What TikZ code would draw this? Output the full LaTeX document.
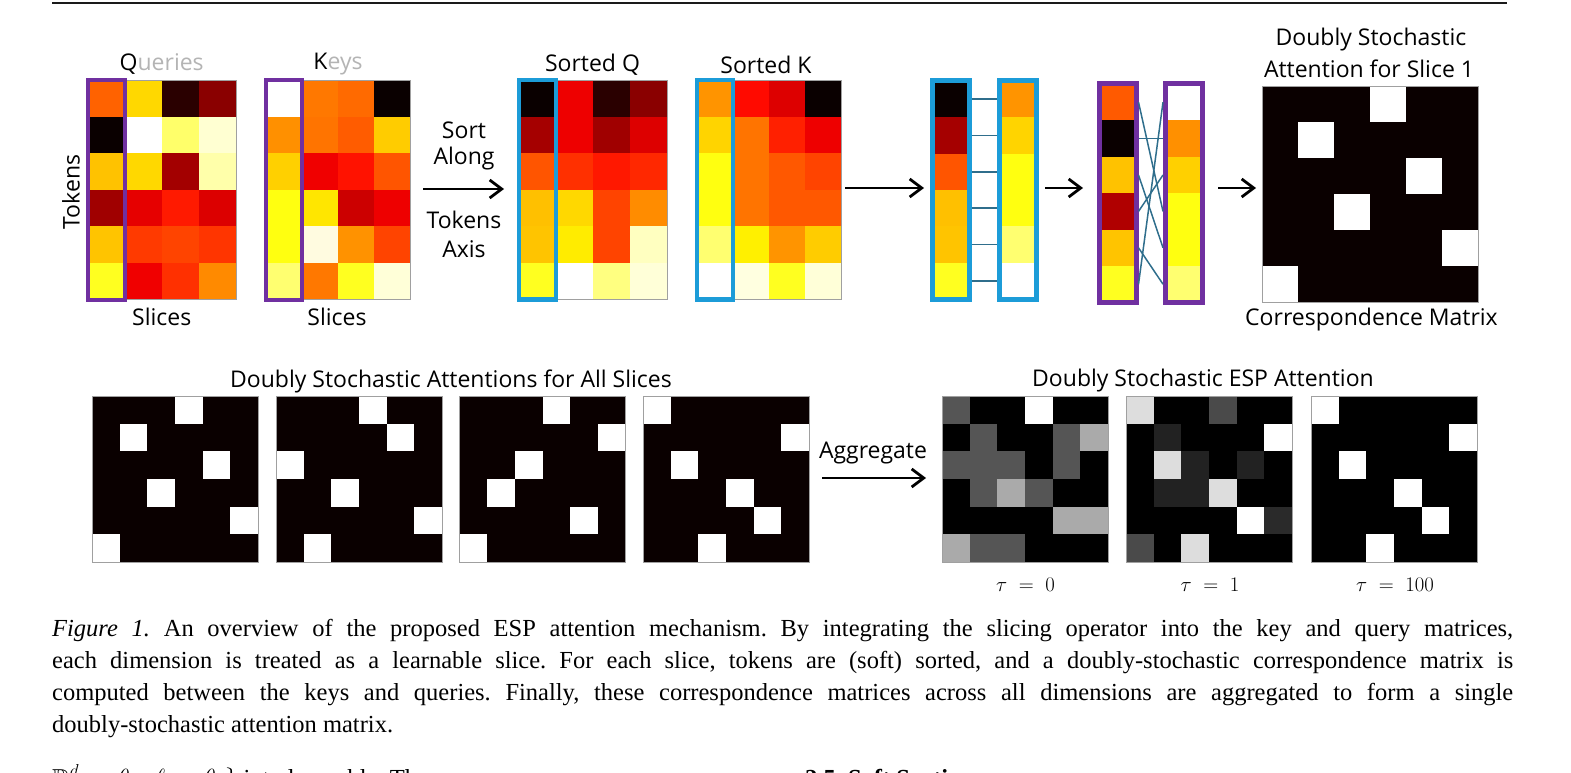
\documentclass[tikz,border=0pt]{standalone}
\usepackage{fontspec}
\usepackage{amssymb}
\setmainfont{Liberation Serif}
\newfontfamily\labfont{Open Sans}
\usetikzlibrary{arrows.meta}
\definecolor{qpurple}{HTML}{7030A0}
\definecolor{qblue}{HTML}{1C9CD8}
\definecolor{linkc}{HTML}{2F6E8C}
\definecolor{nblack}{HTML}{0A0000}
\definecolor{framec}{HTML}{A0A0A0}
\definecolor{faint}{HTML}{B4B4B4}
\definecolor{rulec}{HTML}{1A1A1A}
\newcommand\heatmap[6]{%
  \foreach \hv [count=\hi from 0] in {#6} {%
    \pgfmathtruncatemacro\hr{floor(\hi/#5)}%
    \pgfmathtruncatemacro\hc{mod(\hi,#5)}%
    \definecolor{hcol}{HTML}{\hv}%
    \fill[hcol] ({#1+\hc*#3},{#2+\hr*#4}) rectangle ++(#3,#4);
  }}
\newcommand\permmat[4]{%
  \fill[nblack] (#1,#2) rectangle ++({6*#3},{6*#3});
  \foreach \pr/\pc in {#4} {\fill[white] ({#1+(\pc-1)*#3},{#2+(\pr-1)*#3}) rectangle ++(#3,#3);}
  \draw[framec, line width=0.8] (#1,#2) rectangle ++({6*#3},{6*#3});}
\tikzset{
  lab/.style={font=\labfont\fontsize{23}{27}\selectfont, inner sep=0},
  arr/.style={-{Straight Barb[length=12pt,width=18pt]}, line width=2.8, black},
  link/.style={linkc, line width=1.5},
  pbox/.style={qpurple, line width=4},
  bbox/.style={qblue, line width=4.5},
  frame/.style={framec, line width=0.8},
  taulab/.style={inner sep=0, anchor=base, font=\fontsize{20}{24}\selectfont},
  captext/.style={font=\frenchspacing\fontsize{24.5}{28}\selectfont, inner sep=0, anchor=base west}
}
\begin{document}
\begin{tikzpicture}[x=1pt,y=-1pt]
\useasboundingbox (0,0) rectangle (1571,773);
\draw[rulec, line width=2.5] (52,2.8) -- (1507,2.8);

% ---------- Queries ----------
\heatmap{88}{80}{37}{36.6}{4}{FF6200,FFD800,2A0000,8A0000,0A0000,FFFFFF,FFFF6A,FFFFD2,FFC200,FFD800,A30000,FFFFAA,A00000,E60000,FF1A00,DC0000,FFC400,FF3A00,FF4400,FF3500,FFFF20,F00000,FF3000,FF8A00}
\draw[frame] (88,80) rectangle (236,299.6);
\draw[pbox] (88,80) rectangle (125,299.6);
\node[lab] (qt) at (161.7,64) {Q\textcolor{faint}{ueries}};
\node[lab] (qs) at (161.7,317) {Slices};
\node[lab, rotate=90] (tok) at (71,192) {Tokens};

% ---------- Keys ----------
\heatmap{266}{80}{36.1}{36.6}{4}{FFFFFF,FF7800,FF6A00,0A0000,FF9000,FF7400,FF5C00,FFCC00,FFD000,F00000,FF1200,FF5500,FFFF10,FFE600,CC0000,EE0000,FFFF10,FFFBE0,FF9200,FF4400,FFFF70,FF7800,FFFF20,FFFFD8}
\draw[frame] (266,80) rectangle (410.4,299.6);
\draw[pbox] (266,80) rectangle (302.1,299.6);
\node[lab] (kt) at (338,64) {K\textcolor{faint}{eys}};
\node[lab] (ks) at (337,317) {Slices};

% ---------- Sort arrow ----------
\node[lab] (s1) at (464,130) {Sort};
\node[lab] (s2) at (464,159) {Along};
\node[lab] (s3) at (464,220) {Tokens};
\node[lab] (s4) at (464,249) {Axis};
\coordinate (a1s) at (423,189);
\coordinate (a1e) at (504,189);
\draw[arr] (a1s) -- (a1e);

% ---------- Sorted Q ----------
\heatmap{519}{80}{37}{36.6}{4}{0A0000,EE0000,2A0000,8A0000,A50000,EE0000,A00000,DD0000,FF5500,FF3000,FF1800,FF2800,FFC000,FFD800,FF4400,FF8C00,FFC400,FFEC00,FF4400,FFFFC0,FFFF20,FFFFFF,FFFF80,FFFFD8}
\draw[frame] (519,80) rectangle (667,299.6);
\draw[bbox] (519,80) rectangle (556,299.6);
\node[lab] (sqt) at (592.5,65) {Sorted Q};

% ---------- Sorted K ----------
\heatmap{697}{80}{36}{36.6}{4}{FF9400,FF0A00,DD0000,0A0000,FFD400,FF7400,FF2000,EE0000,FFFF10,FF7400,FF5800,FF4400,FFFF10,FF7400,FF5800,FF5800,FFFF70,FFF000,FF9400,FFCC00,FFFFFF,FFFFE0,FFFF20,FFFFD8}
\draw[frame] (697,80) rectangle (841,299.6);
\draw[bbox] (697,80) rectangle (733,299.6);
\node[lab] (skt) at (766,65) {Sorted K};

\coordinate (a2s) at (845,188);
\coordinate (a2e) at (924,188);
\draw[arr] (a2s) -- (a2e);

% ---------- Sorted columns (blue) ----------
\heatmap{932.5}{80.8}{37}{36.4}{1}{0A0000,A50000,FF5500,FFC000,FFC400,FFFF20}
\draw[bbox, line width=5] (932.5,80.8) rectangle (969.5,299.2);
\heatmap{999}{80.8}{37}{36.4}{1}{FF9400,FFD400,FFFF10,FFFF10,FFFF70,FFFFFF}
\draw[bbox, line width=5] (999,80.8) rectangle (1036,299.2);
\foreach \i in {1,...,6} {
  \coordinate (bl\i) at (972,{80.8+36.4*(\i-0.5)});
  \coordinate (br\i) at (996.5,{80.8+36.4*(\i-0.5)});
  \draw[link] (bl\i) -- (br\i);
}

\coordinate (a3s) at (1045,188);
\coordinate (a3e) at (1083,188);
\draw[arr] (a3s) -- (a3e);

% ---------- Unsorted columns (purple) ----------
\heatmap{1099}{84}{37}{36.4}{1}{FF5A00,0A0000,FFC200,B00000,FFC400,FFFF20}
\draw[pbox, line width=5] (1099,84) rectangle (1136,302.4);
\heatmap{1165.5}{84}{37}{36.4}{1}{FFFFFF,FF9000,FFD000,FFFF10,FFFF10,FFFF70}
\draw[pbox, line width=5] (1165.5,84) rectangle (1202.5,302.4);
\foreach \i in {1,...,6} {
  \coordinate (pl\i) at (1138.5,{84+36.4*(\i-0.5)});
  \coordinate (pr\i) at (1163,{84+36.4*(\i-0.5)});
}
\foreach \a/\b in {1/4,2/2,3/5,4/3,5/6,6/1} {\draw[link] (pl\a) -- (pr\b);}

\coordinate (a4s) at (1218,188);
\coordinate (a4e) at (1256,188);
\draw[arr] (a4s) -- (a4e);

% ---------- Correspondence matrix ----------
\permmat{1262}{86}{36.08}{1/4,2/2,3/5,4/3,5/6,6/1}
\node[lab] (ct1) at (1371,40) {Doubly Stochastic};
\node[lab] (ct2) at (1369,69) {Attention for Slice 1};
\node[lab] (cb) at (1371.5,320) {Correspondence Matrix};

% ---------- Bottom: all slices ----------
\node[lab] (allt) at (451,381) {Doubly Stochastic Attentions for All Slices};
\permmat{92}{396}{27.67}{1/4,2/2,3/5,4/3,5/6,6/1}
\permmat{276}{396}{27.67}{1/4,2/5,3/1,4/3,5/6,6/2}
\permmat{459.5}{396}{27.67}{1/4,2/6,3/3,4/2,5/5,6/1}
\permmat{643}{396}{27.67}{1/1,2/6,3/2,4/4,5/5,6/3}

\node[lab] (agg) at (873,453) {Aggregate};
\coordinate (a5s) at (822,478);
\coordinate (a5e) at (926,478);
\draw[arr] (a5s) -- (a5e);

% ---------- ESP attention ----------
\node[lab] (espt) at (1203,381) {Doubly Stochastic ESP Attention};
\heatmap{942}{396}{27.67}{27.67}{6}{555555,000000,000000,FFFFFF,000000,000000,000000,555555,000000,000000,555555,AAAAAA,555555,555555,555555,000000,555555,000000,000000,555555,AAAAAA,555555,000000,000000,000000,000000,000000,000000,AAAAAA,AAAAAA,AAAAAA,555555,555555,000000,000000,000000}
\draw[frame] (942,396) rectangle ++(166,166);
\heatmap{1126}{396}{27.67}{27.67}{6}{DDDDDD,000000,000000,4A4A4A,000000,000000,000000,222222,000000,000000,000000,FFFFFF,000000,DDDDDD,222222,000000,222222,000000,000000,222222,222222,DDDDDD,000000,000000,000000,000000,000000,000000,FFFFFF,2A2A2A,4A4A4A,000000,DDDDDD,000000,000000,000000}
\draw[frame] (1126,396) rectangle ++(166,166);
\heatmap{1311}{396}{27.67}{27.67}{6}{FFFFFF,000000,000000,000000,000000,000000,000000,000000,000000,000000,000000,FFFFFF,000000,FFFFFF,000000,000000,000000,000000,000000,000000,000000,FFFFFF,000000,000000,000000,000000,000000,000000,FFFFFF,000000,000000,000000,FFFFFF,000000,000000,000000}
\draw[frame] (1311,396) rectangle ++(166,166);
\node[taulab] (t0) at (1025.5,591.7) {$\tau\;=\;0$};
\node[taulab] (t1) at (1210,591.7) {$\tau\;=\;1$};
\node[taulab] (t2) at (1395,591.7) {$\tau\;=\;100$};

% ---------- Caption ----------
\node[captext] (c1) at (52,636) {\makebox[1461pt][s]{\textit{Figure 1.} An overview of the proposed ESP attention mechanism. By integrating the slicing operator into the key and query matrices,}};
\node[captext] (c2) at (52,668) {\makebox[1461pt][s]{each dimension is treated as a learnable slice. For each slice, tokens are (soft) sorted, and a doubly-stochastic correspondence matrix is}};
\node[captext] (c3) at (52,700) {\makebox[1461pt][s]{computed between the keys and queries. Finally, these correspondence matrices across all dimensions are aggregated to form a single}};
\node[captext] (c4) at (52,732) {doubly-stochastic attention matrix.};

\begin{scope}
\clip (0,740) rectangle (1571,773);
\node[captext] (n1) at (52,786) {$\mathbb{R}^d \to \theta_q,\ \ell \to \theta_k\}$ into learnable. The};
\node[captext] (n2) at (805,786) {\textbf{2.5. Soft Sorting}};
\end{scope}
\end{tikzpicture}
\end{document}
